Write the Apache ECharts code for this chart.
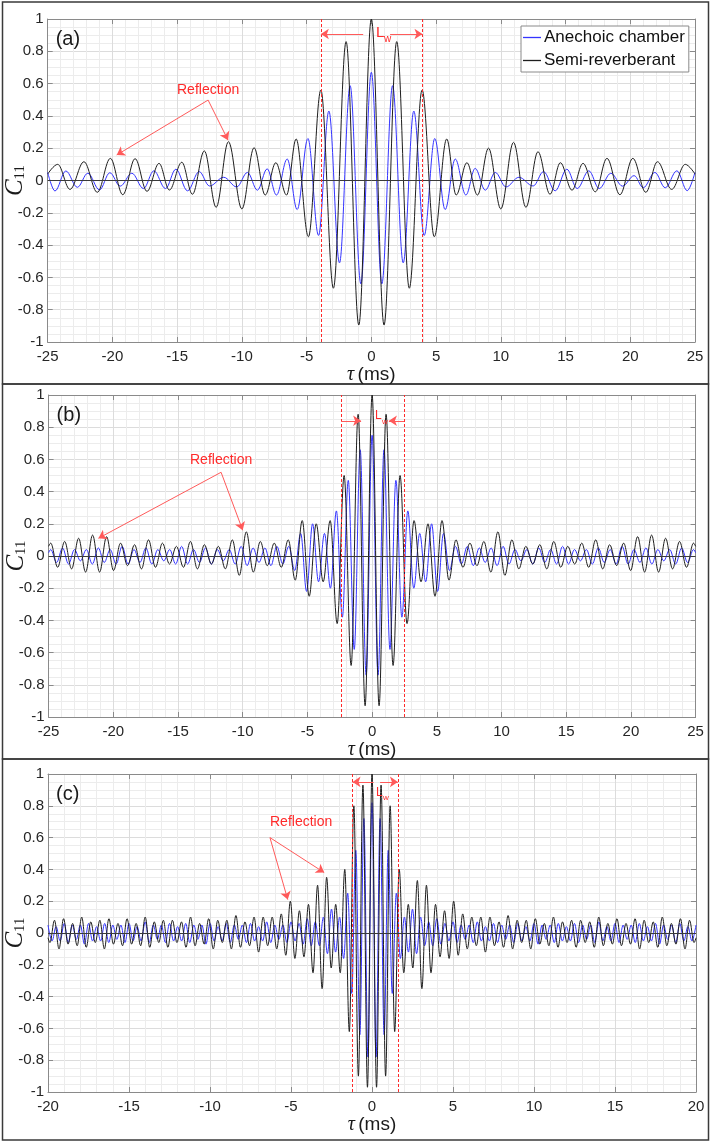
<!DOCTYPE html>
<html>
<head>
<meta charset="utf-8">
<script src="https://cdn.jsdelivr.net/npm/echarts@6/dist/echarts.min.js"></script>
<style>
  html, body { margin: 0; padding: 0; background: #fff; }
  #chart { width: 712px; height: 1142px; }
</style>
</head>
<body>
<div id="chart"></div>
<script>
// extrema of each curve, [tau (ms), C11]
// panel (a)
const anechoicA = [
  [-25, 0.05], [-24.44, -0.065], [-23.6, 0.059], [-22.71, -0.042], [-21.9, 0.045], [-21.0, -0.058],
  [-20.2, 0.048], [-19.4, -0.035], [-18.5, 0.045], [-17.6, -0.05], [-16.8, 0.06], [-15.9, -0.05],
  [-15.1, 0.07], [-14.2, -0.064], [-13.3, 0.055], [-12.5, -0.034], [-11.4, 0.02], [-10.4, -0.04],
  [-9.57, 0.05], [-8.8, -0.06], [-8.05, 0.072], [-7.33, -0.09], [-6.5, 0.133], [-5.73, -0.18],
  [-4.9, 0.26], [-4.08, -0.34], [-3.28, 0.43], [-2.46, -0.51], [-1.64, 0.587], [-0.81, -0.64],
  [0, 0.67], [0.81, -0.64], [1.64, 0.587], [2.46, -0.51], [3.28, 0.43], [4.08, -0.34],
  [4.9, 0.26], [5.7, -0.18], [6.48, 0.133], [7.3, -0.09], [8.02, 0.075], [8.8, -0.06],
  [9.57, 0.05], [10.4, -0.04], [11.4, 0.02], [12.5, -0.034], [13.3, 0.055], [14.2, -0.064],
  [15.1, 0.07], [15.9, -0.05], [16.8, 0.06], [17.6, -0.05], [18.5, 0.045], [19.4, -0.035],
  [20.3, 0.03], [21.0, -0.045], [21.9, 0.05], [22.7, -0.045], [23.6, 0.06], [24.4, -0.063], [25, 0.05]
];
const semiA = [
  [-25, 0.04], [-24.23, 0.10], [-23.28, -0.055], [-22.2, 0.116], [-21.17, -0.073], [-20.16, 0.137],
  [-19.2, -0.088], [-18.25, 0.135], [-17.33, -0.067], [-16.4, 0.106], [-15.6, -0.059], [-14.64, 0.113],
  [-13.82, -0.085], [-12.9, 0.183], [-11.99, -0.166], [-11.04, 0.24], [-10.0, -0.176], [-9.06, 0.203],
  [-8.2, -0.09], [-7.38, 0.11], [-6.55, -0.09], [-5.81, 0.257], [-4.86, -0.348], [-3.9, 0.56],
  [-2.93, -0.667], [-1.95, 0.86], [-0.97, -0.895], [0, 1.0], [0.98, -0.895], [1.96, 0.86],
  [2.93, -0.667], [3.92, 0.56], [4.86, -0.348], [5.82, 0.257], [6.55, -0.09], [7.38, 0.11],
  [8.2, -0.09], [9.05, 0.2], [10.0, -0.176], [10.98, 0.236], [11.94, -0.166], [12.87, 0.178],
  [13.8, -0.085], [14.6, 0.11], [15.5, -0.06], [16.35, 0.106], [17.3, -0.07], [18.2, 0.137],
  [19.2, -0.088], [20.2, 0.137], [21.2, -0.073], [22.1, 0.116], [23.2, -0.055], [24.25, 0.10], [25, 0.04]
];

// panel (b)
const anechoicB = [
  [-25, 0.02], [-24.84, 0.04], [-24.38, -0.04], [-23.92, 0.05], [-23.46, -0.05], [-23.0, 0.04],
  [-22.54, -0.03], [-22.08, 0.04], [-21.62, -0.05], [-21.16, 0.05], [-20.7, -0.04], [-20.24, 0.04],
  [-19.78, -0.05], [-19.32, 0.06], [-18.86, -0.05], [-18.4, 0.04], [-17.94, -0.04], [-17.48, 0.05],
  [-17.02, -0.05], [-16.56, 0.04], [-16.1, -0.03], [-15.64, 0.04], [-15.18, -0.05], [-14.72, 0.06],
  [-14.26, -0.05], [-13.8, 0.04], [-13.34, -0.04], [-12.88, 0.05], [-12.42, -0.05], [-11.96, 0.04],
  [-11.5, -0.03], [-11.04, 0.04], [-10.58, -0.05], [-10.12, 0.06], [-9.66, -0.06], [-9.2, 0.05],
  [-8.74, -0.04], [-8.28, 0.05], [-7.82, -0.06], [-7.36, 0.06], [-6.9, -0.05], [-6.44, 0.06],
  [-5.98, -0.09], [-5.52, 0.14], [-5.06, -0.22], [-4.6, 0.2], [-4.14, -0.16], [-3.68, 0.14],
  [-3.22, -0.2], [-2.76, 0.28], [-2.3, -0.38], [-1.84, 0.47], [-1.38, -0.58], [-0.92, 0.66],
  [-0.46, -0.74], [0, 0.75], [0.46, -0.74], [0.92, 0.66], [1.38, -0.58], [1.84, 0.47],
  [2.3, -0.38], [2.76, 0.28], [3.22, -0.2], [3.68, 0.14], [4.14, -0.16], [4.6, 0.2],
  [5.06, -0.22], [5.52, 0.14], [5.98, -0.09], [6.44, 0.06], [6.9, -0.05], [7.36, 0.06],
  [7.82, -0.06], [8.28, 0.05], [8.74, -0.04], [9.2, 0.05], [9.66, -0.06], [10.12, 0.06],
  [10.58, -0.05], [11.04, 0.04], [11.5, -0.03], [11.96, 0.04], [12.42, -0.05], [12.88, 0.05],
  [13.34, -0.04], [13.8, 0.04], [14.26, -0.05], [14.72, 0.06], [15.18, -0.05], [15.64, 0.04],
  [16.1, -0.03], [16.56, 0.04], [17.02, -0.05], [17.48, 0.05], [17.94, -0.04], [18.4, 0.04],
  [18.86, -0.05], [19.32, 0.06], [19.78, -0.05], [20.24, 0.04], [20.7, -0.04], [21.16, 0.05],
  [21.62, -0.05], [22.08, 0.04], [22.54, -0.03], [23.0, 0.04], [23.46, -0.05], [23.92, 0.05],
  [24.38, -0.04], [24.84, 0.04], [25, 0.02]
];
const semiB = [
  [-25, 0.06], [-24.84, 0.08], [-24.3, -0.07], [-23.76, 0.09], [-23.22, -0.08], [-22.68, 0.11],
  [-22.14, -0.1], [-21.6, 0.13], [-21.06, -0.1], [-20.52, 0.12], [-19.98, -0.09], [-19.44, 0.08],
  [-18.9, -0.06], [-18.36, 0.07], [-17.82, -0.08], [-17.28, 0.1], [-16.74, -0.07], [-16.2, 0.08],
  [-15.66, -0.05], [-15.12, 0.06], [-14.58, -0.07], [-14.04, 0.09], [-13.5, -0.08], [-12.96, 0.07],
  [-12.42, -0.05], [-11.88, 0.06], [-11.34, -0.08], [-10.8, 0.1], [-10.26, -0.12], [-9.72, 0.15],
  [-9.18, -0.1], [-8.64, 0.09], [-8.1, -0.06], [-7.56, 0.08], [-7.02, -0.07], [-6.48, 0.1],
  [-5.94, -0.15], [-5.4, 0.22], [-4.86, -0.25], [-4.32, 0.2], [-3.78, -0.16], [-3.24, 0.22],
  [-2.7, -0.42], [-2.16, 0.5], [-1.62, -0.68], [-1.08, 0.88], [-0.54, -0.93], [0, 1.0],
  [0.54, -0.93], [1.08, 0.88], [1.62, -0.68], [2.16, 0.5], [2.7, -0.42], [3.24, 0.22],
  [3.78, -0.16], [4.32, 0.2], [4.86, -0.25], [5.4, 0.22], [5.94, -0.15], [6.48, 0.1],
  [7.02, -0.07], [7.56, 0.08], [8.1, -0.06], [8.64, 0.09], [9.18, -0.1], [9.72, 0.15],
  [10.26, -0.12], [10.8, 0.1], [11.34, -0.08], [11.88, 0.06], [12.42, -0.05], [12.96, 0.07],
  [13.5, -0.08], [14.04, 0.09], [14.58, -0.07], [15.12, 0.06], [15.66, -0.05], [16.2, 0.08],
  [16.74, -0.07], [17.28, 0.1], [17.82, -0.08], [18.36, 0.07], [18.9, -0.06], [19.44, 0.08],
  [19.98, -0.09], [20.52, 0.12], [21.06, -0.1], [21.6, 0.13], [22.14, -0.1], [22.68, 0.11],
  [23.22, -0.08], [23.76, 0.09], [24.3, -0.07], [24.84, 0.08], [25, 0.06]
];

// panel (c)
const anechoicC = [
  [-20, 0.05], [-19.75, -0.05], [-19.5, 0.04], [-19.25, -0.05], [-19, 0.06], [-18.75, -0.06],
  [-18.5, 0.05], [-18.25, -0.04], [-18, 0.05], [-17.75, -0.07], [-17.5, 0.06], [-17.25, -0.05],
  [-17, 0.04], [-16.75, -0.05], [-16.5, 0.06], [-16.25, -0.06], [-16, 0.05], [-15.75, -0.04],
  [-15.5, 0.05], [-15.25, -0.06], [-15, 0.06], [-14.75, -0.05], [-14.5, 0.04], [-14.25, -0.05],
  [-14, 0.07], [-13.75, -0.06], [-13.5, 0.05], [-13.25, -0.04], [-13, 0.05], [-12.75, -0.06],
  [-12.5, 0.06], [-12.25, -0.05], [-12, 0.04], [-11.75, -0.05], [-11.5, 0.06], [-11.25, -0.06],
  [-11, 0.05], [-10.75, -0.04], [-10.5, 0.05], [-10.25, -0.07], [-10, 0.06], [-9.75, -0.05],
  [-9.5, 0.04], [-9.25, -0.05], [-9, 0.06], [-8.75, -0.06], [-8.5, 0.05], [-8.25, -0.04],
  [-8, 0.05], [-7.75, -0.06], [-7.5, 0.06], [-7.25, -0.05], [-7, 0.04], [-6.75, -0.05],
  [-6.5, 0.07], [-6.25, -0.06], [-6, 0.05], [-5.75, -0.04], [-5.5, 0.05], [-5.25, -0.06],
  [-5, 0.07], [-4.75, -0.05], [-4.5, 0.06], [-4.25, -0.07], [-4, 0.09], [-3.75, -0.08],
  [-3.5, 0.07], [-3.25, -0.08], [-3, 0.1], [-2.75, -0.13], [-2.5, 0.15], [-2.25, -0.12],
  [-2, 0.1], [-1.75, -0.16], [-1.5, 0.25], [-1.25, -0.38], [-1, 0.52], [-0.75, -0.64],
  [-0.5, 0.72], [-0.25, -0.78], [0, 0.82], [0.25, -0.78], [0.5, 0.72], [0.75, -0.64],
  [1, 0.52], [1.25, -0.38], [1.5, 0.25], [1.75, -0.16], [2, 0.1], [2.25, -0.12],
  [2.5, 0.15], [2.75, -0.13], [3, 0.1], [3.25, -0.08], [3.5, 0.07], [3.75, -0.08],
  [4, 0.09], [4.25, -0.07], [4.5, 0.06], [4.75, -0.05], [5, 0.07], [5.25, -0.06],
  [5.5, 0.05], [5.75, -0.04], [6, 0.05], [6.25, -0.06], [6.5, 0.07], [6.75, -0.05],
  [7, 0.04], [7.25, -0.05], [7.5, 0.06], [7.75, -0.06], [8, 0.05], [8.25, -0.04],
  [8.5, 0.05], [8.75, -0.06], [9, 0.06], [9.25, -0.05], [9.5, 0.04], [9.75, -0.05],
  [10, 0.06], [10.25, -0.07], [10.5, 0.05], [10.75, -0.04], [11, 0.05], [11.25, -0.06],
  [11.5, 0.06], [11.75, -0.05], [12, 0.04], [12.25, -0.05], [12.5, 0.06], [12.75, -0.06],
  [13, 0.05], [13.25, -0.04], [13.5, 0.05], [13.75, -0.06], [14, 0.07], [14.25, -0.05],
  [14.5, 0.04], [14.75, -0.05], [15, 0.06], [15.25, -0.06], [15.5, 0.05], [15.75, -0.04],
  [16, 0.05], [16.25, -0.06], [16.5, 0.06], [16.75, -0.05], [17, 0.04], [17.25, -0.05],
  [17.5, 0.06], [17.75, -0.07], [18, 0.05], [18.25, -0.04], [18.5, 0.05], [18.75, -0.06],
  [19, 0.06], [19.25, -0.05], [19.5, 0.04], [19.75, -0.05], [20, 0.05]
];
const semiC = [
  [-20, -0.03], [-19.88, -0.06], [-19.6, 0.08], [-19.32, -0.1], [-19.04, 0.09], [-18.76, -0.07],
  [-18.48, 0.06], [-18.2, -0.08], [-17.92, 0.1], [-17.64, -0.09], [-17.36, 0.07], [-17.08, -0.06],
  [-16.8, 0.08], [-16.52, -0.1], [-16.24, 0.09], [-15.96, -0.07], [-15.68, 0.06], [-15.4, -0.08],
  [-15.12, 0.09], [-14.84, -0.07], [-14.56, 0.06], [-14.28, -0.08], [-14.0, 0.1], [-13.72, -0.09],
  [-13.44, 0.07], [-13.16, -0.06], [-12.88, 0.08], [-12.6, -0.09], [-12.32, 0.08], [-12.04, -0.06],
  [-11.76, 0.07], [-11.48, -0.09], [-11.2, 0.1], [-10.92, -0.08], [-10.64, 0.06], [-10.36, -0.07],
  [-10.08, 0.09], [-9.8, -0.1], [-9.52, 0.08], [-9.24, -0.06], [-8.96, 0.08], [-8.68, -0.1],
  [-8.4, 0.11], [-8.12, -0.09], [-7.84, 0.07], [-7.56, -0.08], [-7.28, 0.1], [-7.0, -0.12],
  [-6.72, 0.1], [-6.44, -0.08], [-6.16, 0.1], [-5.88, -0.1], [-5.6, 0.12], [-5.32, -0.14],
  [-5.04, 0.2], [-4.76, -0.16], [-4.48, 0.14], [-4.2, -0.15], [-3.92, 0.18], [-3.64, -0.25],
  [-3.36, 0.3], [-3.08, -0.35], [-2.8, 0.35], [-2.52, -0.22], [-2.24, 0.18], [-1.96, -0.25],
  [-1.68, 0.4], [-1.4, -0.62], [-1.12, 0.8], [-0.84, -0.9], [-0.56, 0.93], [-0.28, -0.97],
  [0, 1.0], [0.28, -0.97], [0.56, 0.93], [0.84, -0.9], [1.12, 0.8], [1.4, -0.62],
  [1.68, 0.4], [1.96, -0.25], [2.24, 0.18], [2.52, -0.22], [2.8, 0.33], [3.08, -0.35],
  [3.36, 0.3], [3.64, -0.25], [3.92, 0.18], [4.2, -0.15], [4.48, 0.14], [4.76, -0.16],
  [5.04, 0.2], [5.32, -0.14], [5.6, 0.12], [5.88, -0.1], [6.16, 0.1], [6.44, -0.08],
  [6.72, 0.1], [7.0, -0.12], [7.28, 0.1], [7.56, -0.08], [7.84, 0.07], [8.12, -0.09],
  [8.4, 0.11], [8.68, -0.1], [8.96, 0.08], [9.24, -0.06], [9.52, 0.08], [9.8, -0.1],
  [10.08, 0.09], [10.36, -0.07], [10.64, 0.06], [10.92, -0.08], [11.2, 0.1], [11.48, -0.09],
  [11.76, 0.07], [12.04, -0.06], [12.32, 0.08], [12.6, -0.09], [12.88, 0.08], [13.16, -0.06],
  [13.44, 0.07], [13.72, -0.09], [14.0, 0.1], [14.28, -0.08], [14.56, 0.06], [14.84, -0.07],
  [15.12, 0.09], [15.4, -0.08], [15.68, 0.06], [15.96, -0.07], [16.24, 0.09], [16.52, -0.1],
  [16.8, 0.08], [17.08, -0.06], [17.36, 0.07], [17.64, -0.09], [17.92, 0.1], [18.2, -0.08],
  [18.48, 0.06], [18.76, -0.07], [19.04, 0.09], [19.32, -0.1], [19.6, 0.08], [19.88, -0.06], [20, -0.03]
];

// window edges (dashed red lines)
const lwA = [-3.9, 3.95];
const lwB = [-2.4, 2.47];
const lwC = [-1.2, 1.6];

const xRangeA = [-25, 25];
const xRangeB = [-25, 25];
const xRangeC = [-20, 20];

const SANS = '"Liberation Sans", Arial, sans-serif';
const SERIF = '"Liberation Serif", "Times New Roman", serif';
const BLUE = '#3434ff';
const BLACK = '#1e1e1e';
const RED = '#ff2a2a';
const ARROW = '#ff5a5a';

const arrow = (from, to) => [
  { coord: from, symbol: 'none' },
  { coord: to, symbol: 'arrow', symbolSize: 8 }
];

const panels = [
  {
    name: '(a)', left: 47.7, top: 19, width: 647.3, height: 323, range: xRangeA,
    blue: anechoicA, black: semiA, lw: lwA, box: [2, 384],
    arrows: [
      arrow([-12.61, 0.498], [-19.67, 0.158]), arrow([-12.61, 0.498], [-11.07, 0.25]),
      arrow([-0.63, 0.907], [-3.9, 0.907]), arrow([1.45, 0.907], [3.95, 0.907])
    ],
    texts: [
      { x: 177, y: 83, t: 'Reflection', size: 14 }, { x: 376, y: 25, t: 'L', size: 15 }, { x: 384, y: 34, t: 'w', size: 10 }
    ]
  },
  {
    name: '(b)', left: 48.6, top: 395, width: 647, height: 322, range: xRangeB,
    blue: anechoicB, black: semiB, lw: lwB, box: [384, 759],
    arrows: [
      arrow([-11.67, 0.52], [-21.15, 0.11]), arrow([-11.67, 0.52], [-10.0, 0.16]),
      arrow([-2.4, 0.84], [-0.85, 0.84]), arrow([2.47, 0.84], [1.3, 0.84])
    ],
    texts: [
      { x: 190, y: 453, t: 'Reflection', size: 14 }, { x: 375, y: 410, t: 'L', size: 12 }, { x: 382, y: 418, t: 'w', size: 8 }
    ]
  },
  {
    name: '(c)', left: 48, top: 774, width: 648, height: 318, range: xRangeC,
    blue: anechoicC, black: semiC, lw: lwC, box: [759, 1140],
    arrows: [
      arrow([-6.3, 0.6], [-5.2, 0.21]), arrow([-6.3, 0.6], [-2.95, 0.38]),
      arrow([0.1, 0.95], [-1.2, 0.95]), arrow([0.5, 0.95], [1.6, 0.95])
    ],
    texts: [
      { x: 270, y: 815, t: 'Reflection', size: 14 }, { x: 376, y: 787, t: 'L', size: 12 }, { x: 383, y: 794, t: 'w', size: 8 }
    ]
  }
];

const chart = echarts.init(document.getElementById('chart'));

const grid = [], xAxis = [], yAxis = [], series = [], graphic = [];

panels.forEach((p, i) => {
  grid.push({
    left: p.left, top: p.top, width: p.width, height: p.height,
    containLabel: false, outerBoundsMode: 'none'
  });
  const axisLine = { show: true, onZero: false, lineStyle: { color: '#8a8a8a', width: 1 } };
  const tick = { show: true, inside: true, length: 5, lineStyle: { color: '#8a8a8a' } };
  xAxis.push({
    gridIndex: i, type: 'value', min: p.range[0], max: p.range[1], interval: 5, position: 'bottom',
    axisLine, axisTick: tick,
    axisLabel: { color: '#262626', fontSize: 15, fontFamily: SANS, margin: 7 },
    splitLine: { show: true, lineStyle: { color: '#dcdcdc', width: 1 } },
    minorTick: { show: false, splitNumber: 5 },
    minorSplitLine: { show: true, lineStyle: { color: '#ececec', width: 1 } },
    name: '{t|τ} {m|(ms)}', nameLocation: 'middle', nameGap: 20,
    nameTextStyle: {
      rich: {
        t: { fontFamily: SERIF, fontStyle: 'italic', fontSize: 20, color: '#1a1a1a' },
        m: { fontFamily: SANS, fontSize: 19, color: '#1a1a1a' }
      }
    }
  });
  xAxis.push({
    gridIndex: i, type: 'value', min: p.range[0], max: p.range[1], interval: 5, position: 'top',
    axisLine, axisTick: tick, axisLabel: { show: false }, splitLine: { show: false }
  });
  yAxis.push({
    gridIndex: i, type: 'value', min: -1, max: 1, interval: 0.2, position: 'left',
    axisLine, axisTick: tick,
    axisLabel: { color: '#262626', fontSize: 15, fontFamily: SANS, margin: 4,
      formatter: v => String(Math.round(v * 10) / 10) },
    splitLine: { show: true, lineStyle: { color: '#dcdcdc', width: 1 } },
    minorTick: { show: false, splitNumber: 4 },
    minorSplitLine: { show: true, lineStyle: { color: '#ececec', width: 1 } },
    name: '{c|C}{s|11}', nameLocation: 'middle', nameRotate: 90, nameGap: 20,
    nameMoveOverlap: false,
    nameTextStyle: {
      rich: {
        c: { fontFamily: SERIF, fontStyle: 'italic', fontSize: 25, color: '#1a1a1a' },
        s: { fontFamily: SERIF, fontSize: 15, color: '#1a1a1a', verticalAlign: 'bottom', padding: [8, 0, 0, 0] }
      }
    }
  });
  yAxis.push({
    gridIndex: i, type: 'value', min: -1, max: 1, interval: 0.2, position: 'right',
    axisLine, axisTick: tick, axisLabel: { show: false }, splitLine: { show: false }
  });

  series.push({
    name: 'Anechoic chamber', type: 'line', xAxisIndex: 2 * i, yAxisIndex: 2 * i,
    data: p.blue, showSymbol: false, symbol: 'none', smooth: 0.36, smoothMonotone: 'x',
    lineStyle: { color: BLUE, width: 1 }, itemStyle: { color: BLUE }, silent: true,
    markLine: {
      silent: true, symbol: ['none', 'none'], label: { show: false },
      lineStyle: { color: '#3a3a3a', width: 1, type: 'solid' },
      data: [{ yAxis: 0 }]
    }
  });
  series.push({
    name: 'Semi-reverberant', type: 'line', xAxisIndex: 2 * i, yAxisIndex: 2 * i,
    data: p.black, showSymbol: false, symbol: 'none', smooth: 0.36, smoothMonotone: 'x',
    lineStyle: { color: BLACK, width: 1 }, itemStyle: { color: BLACK }, silent: true
  });
  // window edges and annotation arrows, kept on their own empty series
  series.push({
    type: 'line', xAxisIndex: 2 * i, yAxisIndex: 2 * i, data: [], silent: true,
    markLine: {
      silent: true, symbol: ['none', 'none'], label: { show: false },
      lineStyle: { color: RED, width: 1, type: [3, 2] },
      data: [{ xAxis: p.lw[0] }, { xAxis: p.lw[1] }]
    }
  });
  series.push({
    type: 'line', xAxisIndex: 2 * i, yAxisIndex: 2 * i, data: [], silent: true,
    markLine: {
      silent: true, symbol: ['none', 'arrow'], label: { show: false },
      lineStyle: { color: ARROW, width: 1, type: 'solid' }, itemStyle: { color: RED },
      data: p.arrows
    }
  });

  graphic.push({
    type: 'rect', shape: { x: 2.5, y: p.box[0], width: 706, height: p.box[1] - p.box[0] },
    style: { fill: 'none', stroke: '#3a3a3a', lineWidth: 1.5 }, silent: true
  });
  graphic.push({
    type: 'text', left: p.left + 8, top: p.top + 10, z: 100,
    style: { text: p.name, font: '20px ' + SANS, fill: '#1a1a1a' }
  });
  p.texts.forEach(t => graphic.push({
    type: 'text', left: t.x, top: t.y, z: 100,
    style: { text: t.t, font: t.size + 'px ' + SANS, fill: RED }
  }));
});

chart.setOption({
  animation: false,
  backgroundColor: '#fff',
  grid, xAxis, yAxis, series, graphic,
  legend: {
    data: [
      { name: 'Anechoic chamber', icon: 'rect' },
      { name: 'Semi-reverberant', icon: 'rect' }
    ],
    orient: 'vertical', left: 521, top: 26,
    backgroundColor: '#fff', borderColor: '#8a8a8a', borderWidth: 1, borderRadius: 0,
    padding: [3, 4, 3, 2], itemGap: 6, itemWidth: 18, itemHeight: 1.3,
    textStyle: { fontFamily: SANS, fontSize: 17, color: '#111', padding: [0, 0, 0, -2] }
  }
});
</script>
</body>
</html>
